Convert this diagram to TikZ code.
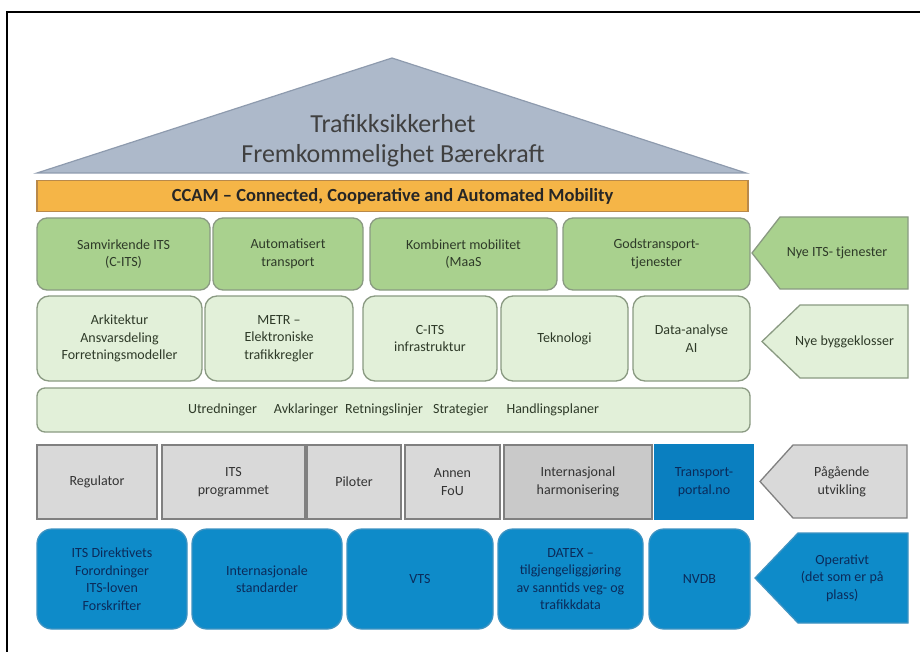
\documentclass[tikz,border=0pt]{standalone}
\usepackage{fontspec}
\setmainfont{Carlito}
\usepackage{tikz}
\definecolor{tak}{HTML}{ADB9CA}
\definecolor{takkant}{HTML}{8E9BAE}
\definecolor{oransje}{HTML}{F5B547}
\definecolor{oransjekant}{HTML}{B9894A}
\definecolor{gronnmork}{HTML}{A9D18E}
\definecolor{gronnlys}{HTML}{E2F0D9}
\definecolor{gronnkant}{HTML}{8A9A82}
\definecolor{graa}{HTML}{D9D9D9}
\definecolor{graamork}{HTML}{C9C9C9}
\definecolor{graakant}{HTML}{808080}
\definecolor{blaa}{HTML}{0E8BC9}
\definecolor{blaamork}{HTML}{0A7FC0}
\definecolor{blaakant}{HTML}{3E93C2}
\definecolor{marine}{HTML}{0B2B5A}
\definecolor{mork}{HTML}{2E3A28}
\newcommand{\pil}[8]{%
  \draw[#7] (#2,{(#5+#6)/2}) -- (#3,#5) -- (#4,#5) -- (#4,#6) -- (#3,#6) -- cycle
    ({((#2+#3)/2+#4)/2},{(#5+#6)/2}) node (#1) {#8};}

\begin{document}
\begin{tikzpicture}[x=1pt, y=-1pt]
  \tikzset{
    every node/.style={font=\fontsize{14}{17.5}\selectfont, align=center, inner sep=0pt},
    blokk/.style={draw, line width=1.3pt},
    tjeneste/.style={blokk, fill=gronnmork, draw=gronnkant, rounded corners=10pt, text=mork},
    byggekloss/.style={blokk, fill=gronnlys, draw=gronnkant, rounded corners=12pt, text=mork},
    utvikling/.style={blokk, fill=graa, draw=graakant, text=black!80},
    operativ/.style={blokk, fill=blaa, draw=blaakant, rounded corners=15pt, text=marine},
    gronnpil/.style={line width=1.3pt, fill=gronnmork, draw=gronnkant, text=mork},
    lyspil/.style={line width=1.3pt, fill=gronnlys, draw=gronnkant, text=mork},
    graapil/.style={line width=1.3pt, fill=graa, draw=graakant, text=black!80},
    blaapil/.style={line width=1.3pt, fill=blaa, draw=blaakant, text=marine}
  }
  \useasboundingbox (0,0) rectangle (920,652);
  \fill[white] (0,0) rectangle (920,652);
  \draw[line width=1.5pt] (7,652) -- (7,12) -- (920,12);

  \draw[line width=1.2pt, fill=tak, draw=takkant] (37,173) -- (392,58) -- (746,173) -- cycle;
  \node[font=\fontsize{26}{30}\selectfont, text=black!75] (maal) at (393,141)
    {Trafikksikkerhet\\Fremkommelighet Bærekraft};
  \node[blokk, fill=oransje, draw=oransjekant, minimum width=711pt, minimum height=31pt,
    font=\fontsize{18.5}{20}\selectfont\bfseries, text=black!85] (ccam) at (392.5,196)
    {CCAM – Connected, Cooperative and Automated Mobility};

  \foreach \id/\xa/\xb/\txt in {sam/37/210/{Samvirkende ITS\\(C-ITS)},
      auto/213/363/{Automatisert\\transport}, maas/370/557/{Kombinert mobilitet\\(MaaS},
      gods/563/750/{Godstransport-\\tjenester}}
    \node[tjeneste, minimum width={(\xb-\xa)*1pt}, minimum height=72pt]
      (\id) at ({(\xa+\xb)/2},254) {\txt};

  \foreach \id/\xa/\xb/\txt in {ark/37/202/{Arkitektur\\Ansvarsdeling\\Forretningsmodeller},
      metr/205/353/{METR –\\Elektroniske\\trafikkregler}, cits/363/497/{C-ITS\\infrastruktur},
      tek/501/628/{Teknologi}, data/633/750/{Data-analyse\\AI}}
    \node[byggekloss, minimum width={(\xb-\xa)*1pt}, minimum height=85pt]
      (\id) at ({(\xa+\xb)/2},338.5) {\txt};

  \node[byggekloss, rounded corners=8pt, minimum width=713pt, minimum height=44pt] (plan) at (393.5,410)
    {Utredninger\hspace{17pt}Avklaringer\hspace{7pt}Retningslinjer\hspace{10pt}Strategier\hspace{18pt}Handlingsplaner};

  \foreach \id/\xa/\xb/\txt in {reg/37/157/{Regulator}, itsp/162/305/{ITS\\programmet},
      pilot/307/401/{Piloter}, fou/405/500/{Annen\\FoU}}
    \node[utvikling, minimum width={(\xb-\xa)*1pt}, minimum height=74pt]
      (\id) at ({(\xa+\xb)/2},482) {\txt};
  \node[utvikling, fill=graamork, minimum width=148pt, minimum height=74pt] (harm) at (578,482)
    {Internasjonal\\harmonisering};
  \node[utvikling, fill=blaamork, draw=blaamork, text=marine, minimum width=98pt, minimum height=74pt]
    (portal) at (704,482) {Transport-\\portal.no};

  \foreach \id/\xa/\xb/\txt in {dir/37/187/{ITS Direktivets\\Forordninger\\ITS-loven\\Forskrifter},
      std/192/342/{Internasjonale\\standarder}, vts/347/493/{VTS},
      datex/498/643/{DATEX –\\tilgjengeliggjøring\\av sanntids veg- og\\trafikkdata},
      nvdb/649/750/{NVDB}}
    \node[operativ, minimum width={(\xb-\xa)*1pt}, minimum height=100pt]
      (\id) at ({(\xa+\xb)/2},579) {\txt};

  \pil{nyeits}{752}{780}{908}{217}{289}{gronnpil}{Nye ITS- tjenester}
  \pil{nyebygg}{762}{800}{908}{305}{378}{lyspil}{Nye byggeklosser}
  \pil{paagaaende}{760}{793}{907}{445}{518}{graapil}{Pågående\\utvikling}
  \pil{operativt}{755}{798}{908}{533}{623}{blaapil}{Operativt\\(det som er på\\plass)}
\end{tikzpicture}
\end{document}
